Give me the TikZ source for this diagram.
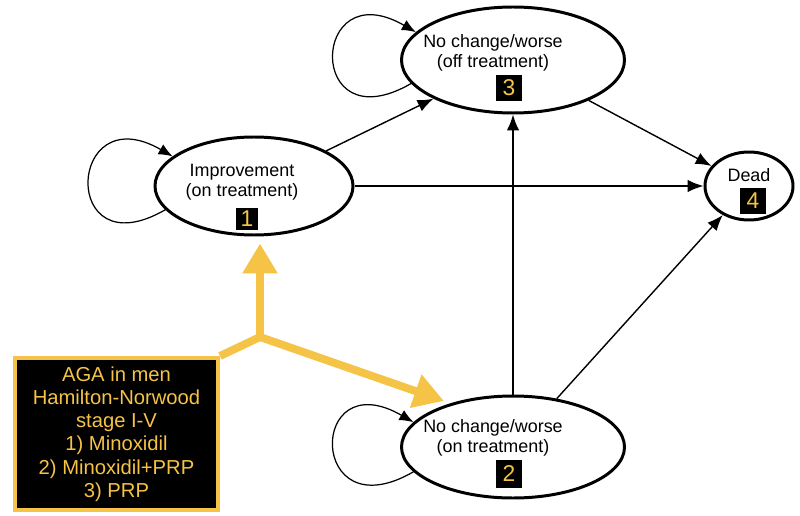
\documentclass[tikz,border=0pt]{standalone}
\usepackage{fontspec}
\setmainfont{Liberation Sans}
\usepackage{tikz}
\usetikzlibrary{arrows.meta,shapes.geometric}
\definecolor{agayellow}{RGB}{245,195,70}

\begin{document}
\begin{tikzpicture}[
    state/.style={ellipse, draw, line width=1.7pt, inner sep=0pt},
    statetext/.style={align=center, font=\fontsize{10.2}{11.5}\selectfont},
    numbox/.style={fill=black, text=agayellow, inner sep=0pt, minimum width=0.52cm, minimum height=0.52cm, font=\fontsize{13}{13}\selectfont},
    trans/.style={-{Latex[length=9pt,width=7pt]}, line width=0.8pt},
    selfloop/.style={-{Latex[length=8pt,width=6.5pt]}, line width=0.7pt, distance=2.45cm},
    yline/.style={agayellow, line width=4.5pt},
    yarrow/.style={yline, -{Triangle[length=17pt,width=19pt]}, shorten >=4pt}
]
    \useasboundingbox (0,0) rectangle (16,10.3);

    \node[state, minimum width=4.46cm, minimum height=2.12cm] (offtr) at (10.26,9.10) {};
    \node[statetext] (offtrtext) at (9.86,9.24) {No change/worse\\(off treatment)};
    \node[numbox] (offtrnum) at (10.18,8.54) {3};

    \node[state, minimum width=3.96cm, minimum height=1.96cm] (impr) at (5.08,6.58) {};
    \node[statetext] (imprtext) at (4.84,6.65) {Improvement\\(on treatment)};
    \node[numbox, minimum width=0.44cm, minimum height=0.44cm] (imprnum) at (4.94,5.92) {1};

    \node[state, minimum width=1.76cm, minimum height=1.36cm] (dead) at (14.98,6.58) {};
    \node[statetext] (deadtext) at (14.98,6.80) {Dead};
    \node[numbox] (deadnum) at (15.06,6.28) {4};

    \node[state, minimum width=4.46cm, minimum height=2.04cm] (ontr) at (10.26,1.36) {};
    \node[statetext] (ontrtext) at (9.86,1.54) {No change/worse\\(on treatment)};
    \node[numbox, minimum height=0.56cm] (ontrnum) at (10.18,0.82) {2};

    \draw[trans] (impr) -- (offtr);
    \draw[trans] (impr) -- (dead);
    \draw[trans] (offtr) -- (dead);
    \draw[trans] (ontr) -- (offtr);
    \draw[trans] (ontr) -- (dead);

    \draw[selfloop] (offtr.193) to[out=210, in=150] (offtr.164);
    \draw[selfloop] (impr.195) to[out=210, in=150] (impr.160);
    \draw[selfloop] (ontr.194) to[out=210, in=150] (ontr.166);

    \node[draw=agayellow, fill=black, text=agayellow, line width=2.3pt, minimum width=4.06cm, minimum height=3.04cm, align=center, font=\fontsize{11.5}{13.2}\selectfont] (aga) at (2.33,1.62) {AGA in men\\Hamilton-Norwood\\stage I-V\\1) Minoxidil\\2) Minoxidil+PRP\\3) PRP};

    \coordinate (split) at (5.2,3.56);
    \draw[yline, line join=round] (aga.north east) -- (split);
    \draw[yarrow] (split) -- (split |- impr.south);
    \draw[yarrow] (split) -- (ontr.145);
\end{tikzpicture}
\end{document}
